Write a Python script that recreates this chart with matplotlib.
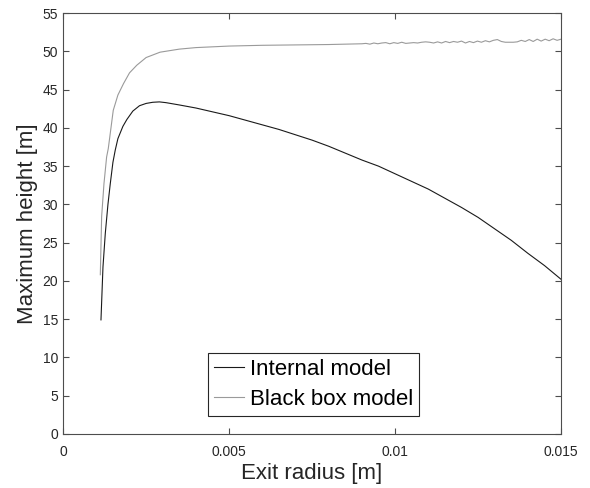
import numpy as np
import matplotlib
matplotlib.use("Agg")
import matplotlib.pyplot as plt

plt.rcParams["font.family"] = ["Liberation Sans", "DejaVu Sans"]

# Internal model
internal_x = [0.00114, 0.00120, 0.00127, 0.00135, 0.00142, 0.00150, 0.00157, 0.00165,
              0.00180, 0.00192, 0.0021, 0.0023, 0.0025, 0.0027, 0.0029, 0.0031, 0.0035,
              0.0040, 0.0045, 0.0050, 0.0055, 0.0060, 0.0065, 0.0070, 0.0075, 0.0080,
              0.0085, 0.0090, 0.0095, 0.0100, 0.0105, 0.0110, 0.0115, 0.0120, 0.0125,
              0.0130, 0.0135, 0.0140, 0.0145, 0.0150]
internal_y = [14.9, 21.8, 26.2, 30.0, 32.7, 35.5, 37.1, 38.6,
              40.2, 41.1, 42.2, 42.9, 43.2, 43.35, 43.4, 43.3, 43.0,
              42.6, 42.1, 41.6, 41.0, 40.4, 39.8, 39.1, 38.4, 37.6,
              36.7, 35.8, 35.0, 34.0, 33.0, 32.0, 30.8, 29.6, 28.3,
              26.8, 25.3, 23.6, 22.0, 20.2]

# Black box model: smooth rise, then a noisy plateau
blackbox_x_head = [0.00112, 0.00116, 0.00123, 0.00131, 0.00136, 0.00151, 0.00165, 0.00182,
                   0.0020, 0.00222, 0.0025, 0.00292, 0.0035, 0.0040, 0.0050, 0.0060,
                   0.0070, 0.0080]
blackbox_y_head = [20.8, 28.4, 32.7, 36.2, 37.3, 42.3, 44.3, 45.8,
                   47.2, 48.2, 49.2, 49.9, 50.3, 50.5, 50.7, 50.8,
                   50.85, 50.9]
blackbox_x_tail = np.linspace(0.009, 0.015, 51)
blackbox_y_tail = [51.0, 51.05, 50.95, 51.1, 51.0, 51.1, 51.15, 51.0, 51.15, 51.05,
                   51.2, 51.05, 51.1, 51.15, 51.1, 51.2, 51.25, 51.2, 51.1, 51.25,
                   51.1, 51.3, 51.15, 51.3, 51.2, 51.35, 51.1, 51.3, 51.15, 51.35,
                   51.2, 51.4, 51.25, 51.45, 51.55, 51.3, 51.2, 51.2, 51.2, 51.25,
                   51.45, 51.3, 51.55, 51.3, 51.6, 51.35, 51.6, 51.4, 51.65, 51.45, 51.6]

x_ticks = [0, 0.005, 0.01, 0.015]
x_ticklabels = ["0", "0.005", "0.01", "0.015"]
y_ticks = list(range(0, 56, 5))

fig = plt.figure(figsize=(5.9, 4.88), dpi=100)
ax = fig.add_axes([0.107, 0.111, 0.844, 0.862])

ax.plot(internal_x, internal_y, color="#1a1a1a", lw=0.8, label="Internal model")
ax.plot(list(blackbox_x_head) + list(blackbox_x_tail),
        blackbox_y_head + blackbox_y_tail, color="#9a9a9a", lw=0.8, label="Black box model")

ax.set_xlim(0, 0.015)
ax.set_ylim(0, 55)
ax.set_xticks(x_ticks)
ax.set_xticklabels(x_ticklabels)
ax.set_yticks(y_ticks)
ax.tick_params(direction="in", top=True, right=True, length=4, width=0.8,
               color="#4d4d4d", labelsize=10, labelcolor="#262626")
ax.tick_params(axis="x", pad=8)
for s in ax.spines.values():
    s.set_color("#4d4d4d")
    s.set_linewidth(0.8)

ax.set_xlabel("Exit radius [m]", fontsize=16, color="#262626", labelpad=3)
ax.set_ylabel("Maximum height [m]", fontsize=16, color="#262626", labelpad=3)

leg = ax.legend(loc="lower center", bbox_to_anchor=(0.503, 0.043), fontsize=16,
                frameon=True, fancybox=False, edgecolor="#262626", framealpha=1,
                handlelength=1.35, handletextpad=0.27, borderpad=0.28, labelspacing=0.38,
                borderaxespad=0)
leg.get_frame().set_linewidth(0.8)

plt.savefig("out.png", dpi=100)
plt.close()
